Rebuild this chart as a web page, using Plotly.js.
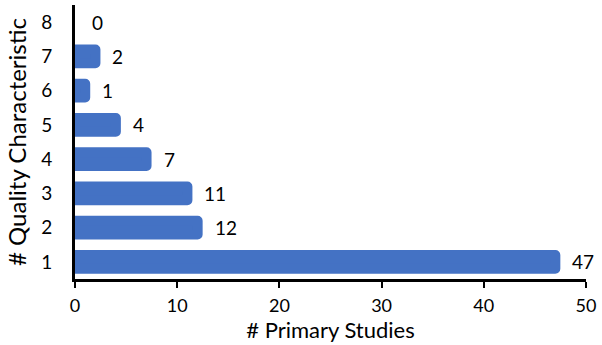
<!DOCTYPE html>
<html>
<head>
<meta charset="utf-8">
<script src="https://cdn.plot.ly/plotly-3.0.1.min.js"></script>
<style>
html,body{margin:0;padding:0;background:#fff;}
#chart{width:602px;height:345px;}
.barlayer path{stroke-linejoin:round;}
</style>
</head>
<body>
<div id="chart"></div>
<script>
const categories = ['1','2','3','4','5','6','7','8'];
const studies = [47, 12, 11, 7, 4, 1, 2, 0];
const xTickVals = [0, 10, 20, 30, 40, 50];
const xTitle = '# Primary Studies';
const yTitle = '# Quality Characteristic';

const barColor = '#4472C4';
const font = 'Lato, "Open Sans", sans-serif';

const trace = {
  type: 'bar',
  orientation: 'h',
  x: studies,
  y: categories,
  marker: {color: barColor, line: {color: barColor, width: studies.map(v => v > 0 ? 10 : 0)}},
  hoverinfo: 'none'
};

const annotations = studies.map((v, i) => ({
  x: v, y: i, xref: 'x', yref: 'y',
  text: String(v), showarrow: false,
  xanchor: 'left', yanchor: 'middle', xshift: 15,
  font: {family: font, size: 19, color: '#000'}
}));

const layout = {
  width: 602, height: 345,
  margin: {l: 75, r: 16, t: 5, b: 66},
  paper_bgcolor: '#fff', plot_bgcolor: '#fff',
  showlegend: false,
  bargap: 0.6,
  font: {family: font, size: 19, color: '#000'},
  xaxis: {
    range: [0, 50], tickvals: xTickVals, showgrid: false, zeroline: false,
    showline: true, linecolor: '#000', linewidth: 2.5,
    ticks: 'outside', ticklen: 6, tickwidth: 2, tickcolor: '#000',
    ticklabelstandoff: 3,
    tickfont: {family: font, size: 18, color: '#000'},
    title: {text: xTitle, font: {family: font, size: 22, color: '#000'}, standoff: 8},
    automargin: false, fixedrange: true
  },
  yaxis: {
    type: 'category', categoryorder: 'array', categoryarray: categories,
    range: [-0.5, 7.5],
    showgrid: false, zeroline: false,
    showline: true, linecolor: '#000', linewidth: 3,
    ticks: '', ticklabelstandoff: 16,
    tickfont: {family: font, size: 19, color: '#000'},
    title: {text: yTitle, font: {family: font, size: 24, color: '#000'}, standoff: 8},
    automargin: false, fixedrange: true
  },
  annotations: annotations
};

Plotly.newPlot('chart', [trace], layout, {displayModeBar: false, staticPlot: true});
</script>
</body>
</html>
